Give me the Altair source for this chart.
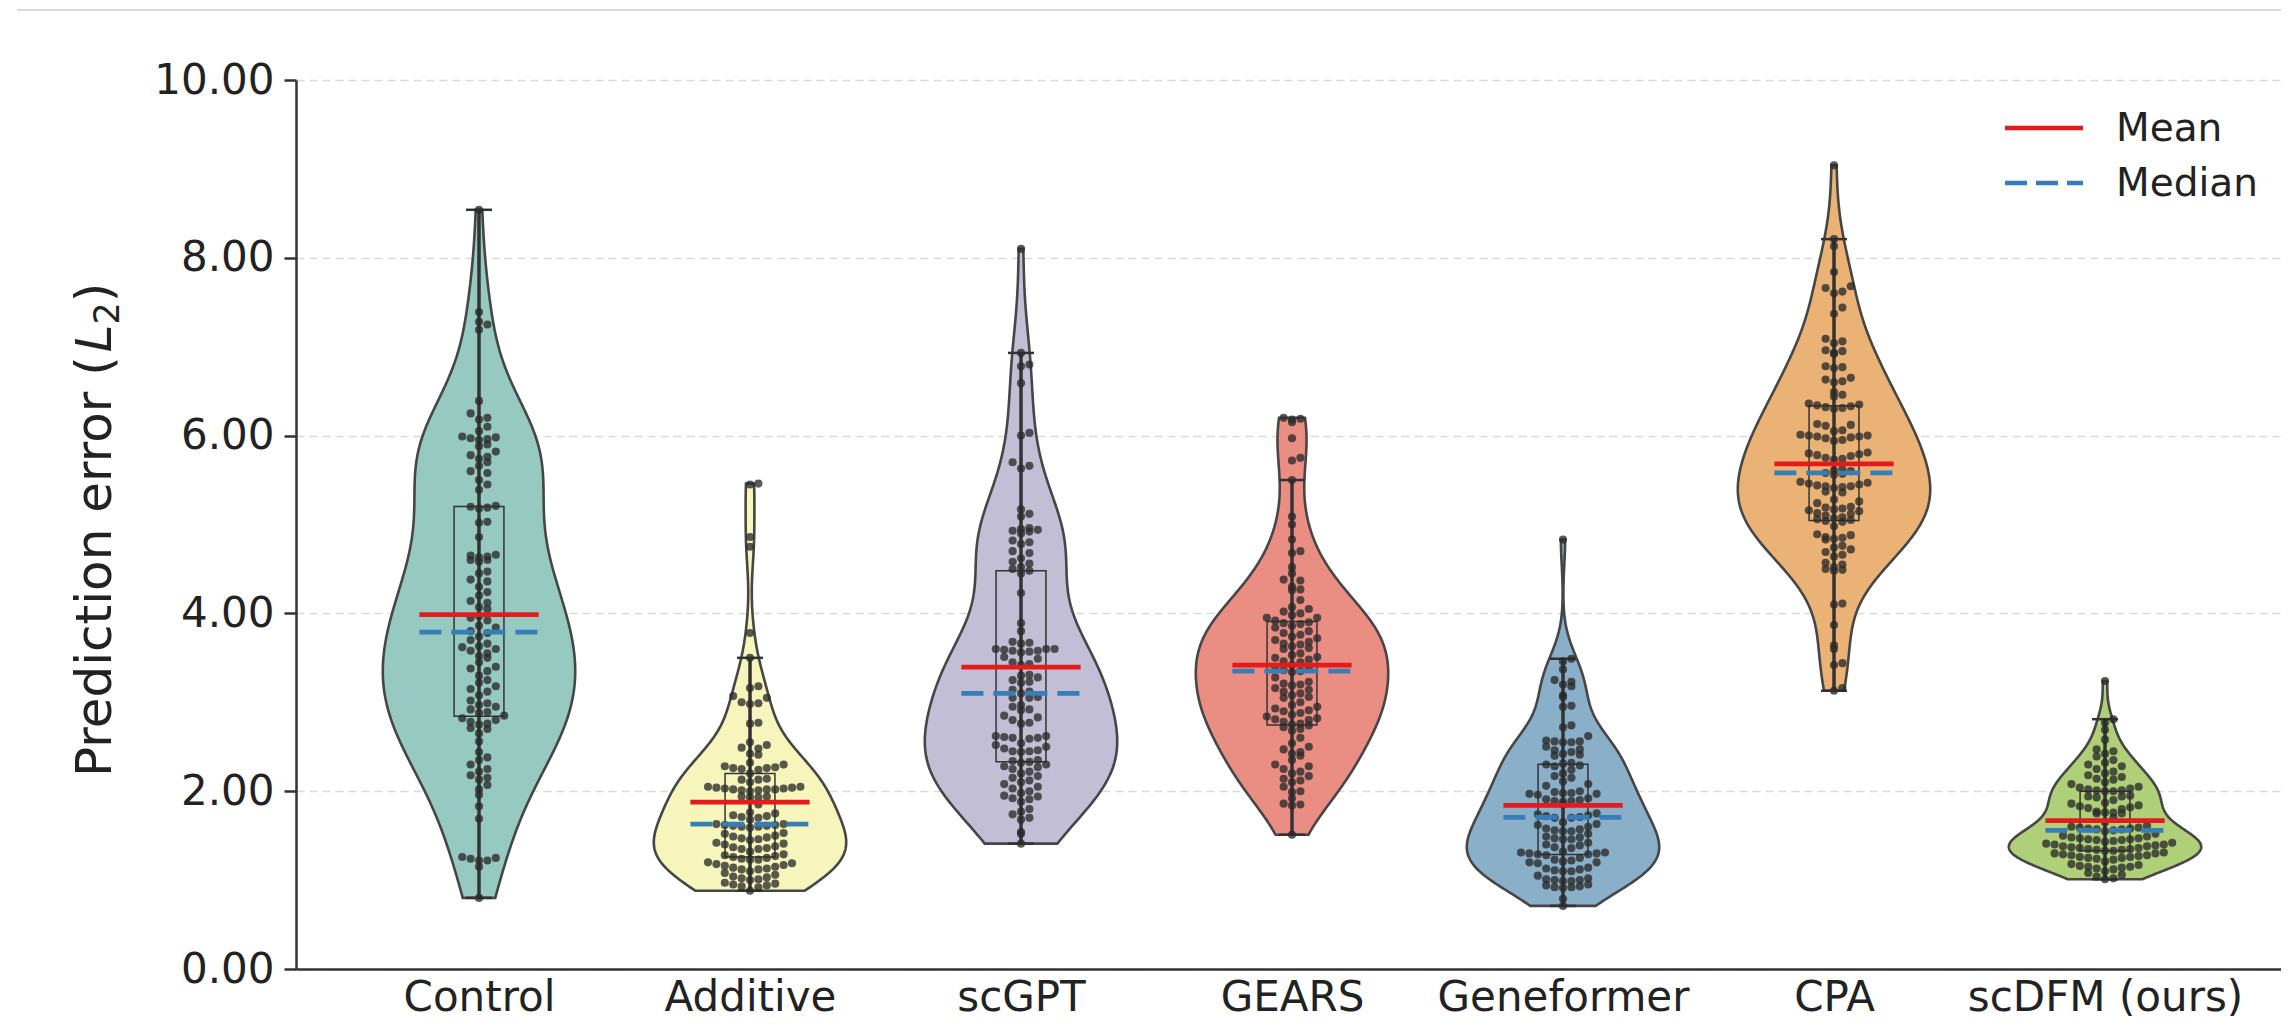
import colorsys
import json
import numpy as np
import pandas as pd
import altair as alt

# ---------------- data ----------------
categories = ["Control", "Additive", "scGPT", "GEARS", "Geneformer", "CPA", "scDFM (ours)"]

control = [8.54, 7.39, 7.28, 7.25, 7.19, 6.39, 6.25, 6.2, 6.18, 6.1, 6.05, 5.99, 5.98, 5.97, 5.96,
           5.95, 5.9, 5.88, 5.82, 5.78, 5.76, 5.74, 5.7, 5.66, 5.6, 5.58, 5.5, 5.45, 5.39, 5.21,
           5.2, 5.19, 5.18, 5.03, 5.02, 4.86, 4.66, 4.65, 4.64, 4.63, 4.6, 4.6, 4.58, 4.47, 4.45,
           4.38, 4.36, 4.3, 4.24, 4.2, 4.14, 4.12, 4.07, 4.05, 3.97, 3.95, 3.92, 3.86, 3.84, 3.8,
           3.78, 3.74, 3.7, 3.66, 3.63, 3.62, 3.6, 3.58, 3.55, 3.52, 3.5, 3.45, 3.4, 3.38, 3.35,
           3.3, 3.25, 3.22, 3.18, 3.15, 3.12, 3.08, 3.02, 2.99, 2.97, 2.95, 2.92, 2.89, 2.88, 2.85,
           2.82, 2.8, 2.78, 2.76, 2.75, 2.71, 2.7, 2.65, 2.56, 2.44, 2.38, 2.35, 2.3, 2.25, 2.22,
           2.18, 2.15, 2.13, 2.07, 2.02, 1.96, 1.83, 1.69, 1.26, 1.25, 1.24, 1.22, 1.22, 1.15, 0.8]

additive = [5.46, 5.45, 4.86, 4.75, 3.78, 3.5, 3.18, 3.16, 3.07, 3.05, 3.0, 2.99, 2.98, 2.77, 2.76,
            2.55, 2.52, 2.49, 2.48, 2.42, 2.41, 2.32, 2.3, 2.28, 2.27, 2.26, 2.26, 2.25, 2.24, 2.2,
            2.14, 2.13, 2.13, 2.1, 2.05, 2.05, 2.04, 2.04, 2.03, 2.03, 2.02, 2.02, 2.02, 2.01, 2.01,
            2.0, 1.94, 1.94, 1.93, 1.93, 1.85, 1.76, 1.75, 1.73, 1.72, 1.71, 1.7, 1.68, 1.63, 1.63,
            1.62, 1.62, 1.61, 1.61, 1.6, 1.6, 1.59, 1.53, 1.52, 1.5, 1.49, 1.48, 1.47, 1.46, 1.45,
            1.42, 1.41, 1.4, 1.38, 1.37, 1.36, 1.35, 1.35, 1.32, 1.29, 1.28, 1.27, 1.26, 1.25, 1.24,
            1.23, 1.23, 1.2, 1.19, 1.18, 1.17, 1.16, 1.15, 1.14, 1.13, 1.12, 1.12, 1.1, 1.08, 1.06,
            1.04, 1.03, 1.02, 1.01, 1.0, 0.97, 0.96, 0.95, 0.94, 0.93, 0.92, 0.88]

scgpt = [8.1, 6.93, 6.8, 6.78, 6.59, 6.03, 6.0, 5.7, 5.66, 5.63, 5.17, 5.12, 5.09, 4.96, 4.95,
         4.94, 4.93, 4.92, 4.9, 4.82, 4.8, 4.78, 4.7, 4.68, 4.62, 4.58, 4.56, 4.52, 4.5, 4.48,
         4.45, 4.23, 3.89, 3.8, 3.68, 3.67, 3.66, 3.6, 3.6, 3.6, 3.59, 3.58, 3.58, 3.57, 3.56,
         3.51, 3.49, 3.45, 3.43, 3.42, 3.31, 3.3, 3.28, 3.25, 3.23, 3.22, 3.14, 3.12, 3.1, 3.06,
         3.05, 3.05, 2.97, 2.95, 2.92, 2.91, 2.85, 2.83, 2.8, 2.77, 2.76, 2.62, 2.62, 2.61, 2.6,
         2.6, 2.59, 2.54, 2.52, 2.5, 2.48, 2.46, 2.45, 2.45, 2.44, 2.35, 2.34, 2.33, 2.32, 2.3,
         2.28, 2.27, 2.25, 2.22, 2.2, 2.17, 2.15, 2.12, 2.1, 2.08, 2.05, 2.03, 2.0, 1.98, 1.95,
         1.94, 1.92, 1.91, 1.88, 1.8, 1.77, 1.74, 1.7, 1.68, 1.54, 1.52, 1.41]

gears = [6.2, 6.19, 6.18, 6.15, 5.97, 5.75, 5.72, 5.5, 5.09, 5.0, 4.83, 4.7, 4.68, 4.52, 4.45,
         4.38, 4.37, 4.3, 4.27, 4.26, 4.15, 4.07, 4.05, 4.02, 4.0, 3.98, 3.95, 3.95, 3.92, 3.9,
         3.89, 3.88, 3.86, 3.84, 3.8, 3.78, 3.76, 3.74, 3.72, 3.7, 3.68, 3.66, 3.65, 3.63, 3.61,
         3.6, 3.55, 3.53, 3.51, 3.5, 3.48, 3.46, 3.45, 3.42, 3.4, 3.38, 3.36, 3.35, 3.34, 3.28,
         3.23, 3.21, 3.2, 3.19, 3.16, 3.14, 3.12, 3.1, 3.08, 3.06, 3.05, 3.0, 2.97, 2.95, 2.93,
         2.91, 2.9, 2.88, 2.86, 2.84, 2.82, 2.81, 2.8, 2.78, 2.76, 2.75, 2.74, 2.72, 2.7, 2.68,
         2.6, 2.54, 2.5, 2.47, 2.44, 2.42, 2.4, 2.35, 2.3, 2.28, 2.25, 2.22, 2.2, 2.17, 2.14,
         2.12, 2.1, 2.05, 2.0, 1.99, 1.92, 1.86, 1.85, 1.84, 1.51]

geneformer = [4.83, 3.49, 3.46, 3.37, 3.25, 3.23, 3.2, 3.18, 3.08, 3.06, 2.96, 2.95, 2.74, 2.72,
              2.62, 2.57, 2.56, 2.56, 2.55, 2.55, 2.5, 2.47, 2.46, 2.44, 2.42, 2.41, 2.4, 2.32,
              2.31, 2.3, 2.29, 2.28, 2.24, 2.2, 2.17, 2.15, 2.11, 2.08, 2.06, 2.0, 1.99, 1.98,
              1.98, 1.97, 1.97, 1.96, 1.92, 1.91, 1.9, 1.89, 1.89, 1.88, 1.85, 1.75, 1.74, 1.73,
              1.72, 1.71, 1.7, 1.7, 1.65, 1.63, 1.62, 1.6, 1.58, 1.57, 1.56, 1.55, 1.55, 1.52,
              1.49, 1.48, 1.47, 1.46, 1.46, 1.42, 1.4, 1.39, 1.37, 1.36, 1.32, 1.31, 1.31, 1.3,
              1.3, 1.29, 1.29, 1.28, 1.25, 1.23, 1.22, 1.21, 1.2, 1.2, 1.19, 1.14, 1.13, 1.12,
              1.11, 1.1, 1.1, 1.05, 1.02, 1.01, 1.0, 1.0, 0.99, 0.99, 0.95, 0.94, 0.93, 0.92, 0.92,
              0.91, 0.79, 0.71]

cpa = [9.04, 8.21, 8.13, 7.84, 7.68, 7.66, 7.62, 7.6, 7.44, 7.37, 7.09, 7.06, 7.04, 6.96, 6.95,
       6.93, 6.92, 6.78, 6.77, 6.76, 6.65, 6.63, 6.61, 6.6, 6.49, 6.46, 6.44, 6.36, 6.35, 6.34,
       6.33, 6.32, 6.31, 6.3, 6.13, 6.12, 6.11, 6.06, 6.05, 6.01, 6.0, 6.0, 5.99, 5.99, 5.98,
       5.97, 5.95, 5.94, 5.81, 5.8, 5.79, 5.78, 5.77, 5.75, 5.74, 5.73, 5.62, 5.61, 5.6, 5.58,
       5.57, 5.56, 5.48, 5.47, 5.46, 5.45, 5.44, 5.43, 5.43, 5.42, 5.41, 5.37, 5.36, 5.28, 5.26,
       5.24, 5.2, 5.19, 5.18, 5.17, 5.16, 5.15, 5.13, 5.12, 5.1, 5.08, 5.07, 5.06, 5.05, 5.04,
       5.03, 4.98, 4.89, 4.88, 4.86, 4.85, 4.84, 4.83, 4.76, 4.74, 4.72, 4.69, 4.66, 4.64, 4.57,
       4.55, 4.52, 4.5, 4.49, 4.48, 4.11, 4.1, 3.87, 3.64, 3.6, 3.44, 3.42, 3.16, 3.13]

scdfm = [3.24, 2.81, 2.77, 2.69, 2.58, 2.47, 2.45, 2.42, 2.39, 2.35, 2.32, 2.3, 2.28, 2.25, 2.22,
         2.2, 2.18, 2.16, 2.14, 2.13, 2.1, 2.08, 2.05, 2.04, 2.03, 2.02, 2.01, 2.01, 2.0, 2.0,
         1.95, 1.94, 1.94, 1.93, 1.9, 1.87, 1.86, 1.84, 1.83, 1.82, 1.81, 1.8, 1.77, 1.76, 1.76,
         1.75, 1.75, 1.7, 1.65, 1.61, 1.6, 1.59, 1.59, 1.58, 1.58, 1.57, 1.57, 1.56, 1.55, 1.52,
         1.5, 1.49, 1.48, 1.47, 1.47, 1.46, 1.46, 1.45, 1.45, 1.44, 1.43, 1.42, 1.41, 1.4, 1.4,
         1.39, 1.38, 1.38, 1.37, 1.36, 1.36, 1.35, 1.35, 1.34, 1.34, 1.33, 1.33, 1.31, 1.3, 1.3,
         1.29, 1.28, 1.28, 1.27, 1.26, 1.26, 1.25, 1.25, 1.24, 1.23, 1.21, 1.18, 1.17, 1.16,
         1.15, 1.15, 1.14, 1.13, 1.12, 1.1, 1.08, 1.06, 1.04, 1.02, 1.01]

series = [control, additive, scgpt, gears, geneformer, cpa, scdfm]
y_tick_values = [0, 2, 4, 6, 8, 10]
legend_labels = ["Mean", "Median"]
title_parts = ["Prediction error (", "L", "2", ")"]

# ---------------- styling ----------------
FONT = "DejaVu Sans"
INK = "#333333"
TEXT = "#222222"
RED = "#e41a1c"
BLUE = "#377eb8"
base_palette = ["#8dd3c7", "#ffffb3", "#bebada", "#fb8072", "#80b1d3", "#fdb462", "#b3de69"]


def desaturate(hexcol, prop=0.75):
    r, g, b = [int(hexcol[i:i + 2], 16) / 255 for i in (1, 3, 5)]
    h, l, s = colorsys.rgb_to_hls(r, g, b)
    r, g, b = colorsys.hls_to_rgb(h, l, s * prop)
    return "#%02x%02x%02x" % tuple(int(round(c * 255)) for c in (r, g, b))


colors = [desaturate(c) for c in base_palette]

rows = []
for i, (c, vals) in enumerate(zip(categories, series)):
    for v in vals:
        rows.append({"cat": c, "idx": i, "value": v})
df = pd.DataFrame(rows)

W, H = 1985, 889
xs = alt.Scale(domain=[-0.6753, 6.6494], nice=False, zero=False)
ys = alt.Scale(domain=[0, 10], nice=False)

x_axis = alt.Axis(values=list(range(len(categories))),
                  labelExpr=json.dumps(categories) + "[datum.value]",
                  ticks=False, grid=False, domainColor=INK, domainWidth=2.5,
                  labelFontSize=42, labelColor=TEXT, labelFont=FONT, labelPadding=8,
                  labelFlush=False, labelOverlap=False, labelLimit=0, title=None)
y_axis = alt.Axis(values=y_tick_values, format=".2f", tickSize=12, tickWidth=2.5, tickColor=INK,
                  domainColor=INK, domainWidth=2.5, labelFontSize=42, labelColor=TEXT,
                  labelFont=FONT, labelPadding=10, grid=True, gridDash=[8, 5],
                  gridColor="#dadada", gridWidth=1.5, title=None)


def X(field):
    return alt.X(field, scale=xs, axis=x_axis)


def Y(field):
    return alt.Y(field, scale=ys, axis=y_axis)


HW = 0.355  # half width of violins in category units
layers = []

# violins (KDE, cut at data extremes, each scaled to same max width)
for i, (c, vals) in enumerate(zip(categories, series)):
    arr = np.array(vals, dtype=float)
    bw = float(arr.std(ddof=1) * len(arr) ** (-0.2))
    v = alt.Chart(df).transform_filter(
        alt.datum.cat == c
    ).transform_density(
        "value", as_=["value", "density"], extent=[float(arr.min()), float(arr.max())],
        bandwidth=bw, steps=220
    ).transform_joinaggregate(
        maxd="max(density)"
    ).transform_calculate(
        xl=f"{i} - {HW} * datum.density / datum.maxd",
        xr=f"{i} + {HW} * datum.density / datum.maxd",
    ).mark_area(orient="horizontal", fill=colors[i], stroke="#464646", strokeWidth=2.6,
                fillOpacity=1).encode(
        y=Y("value:Q"), x=X("xl:Q"), x2="xr:Q",
    )
    layers.append(v)

# box plot pieces
box_base = alt.Chart(df).transform_joinaggregate(
    q1="q1(value)", q3="q3(value)", groupby=["cat", "idx"]
).transform_filter(
    "datum.value >= datum.q1 - 1.5 * (datum.q3 - datum.q1) && "
    "datum.value <= datum.q3 + 1.5 * (datum.q3 - datum.q1)"
).transform_aggregate(
    wlo="min(value)", whi="max(value)", groupby=["cat", "idx", "q1", "q3"]
).transform_calculate(
    bl="datum.idx - 0.092", br="datum.idx + 0.092",
    cl="datum.idx - 0.048", cr="datum.idx + 0.048",
)
layers.append(box_base.mark_rect(fillOpacity=0, stroke=INK, strokeWidth=1.5).encode(
    x=X("bl:Q"), x2="br:Q", y=Y("q1:Q"), y2="q3:Q"))
layers.append(box_base.mark_rule(color=INK, strokeWidth=3.5).encode(
    x=X("idx:Q"), y=Y("wlo:Q"), y2="whi:Q"))
layers.append(box_base.mark_rule(color=INK, strokeWidth=2.5).encode(
    x=X("cl:Q"), x2="cr:Q", y=Y("whi:Q")))
layers.append(box_base.mark_rule(color=INK, strokeWidth=2.5).encode(
    x=X("cl:Q"), x2="cr:Q", y=Y("wlo:Q")))

# swarm-like dots
dots = alt.Chart(df).transform_calculate(
    row="floor(datum.value / 0.11)"
).transform_window(
    window=[alt.WindowFieldDef(**{"op": "row_number", "as": "k"})],
    groupby=["cat", "row"],
    sort=[alt.SortField("value", order="ascending")],
).transform_calculate(
    xpos="datum.idx + (datum.k % 2 == 0 ? 1 : -1) * floor(datum.k / 2) * 0.031"
).mark_circle(size=66, color="#2a2a2a", opacity=0.78).encode(
    x=X("xpos:Q"), y=Y("value:Q"),
)
layers.append(dots)

# mean / median lines
stats = alt.Chart(df).transform_aggregate(
    mean="mean(value)", med="median(value)", groupby=["cat", "idx"]
).transform_calculate(ml="datum.idx - 0.22", mr="datum.idx + 0.22")
layers.append(stats.mark_rule(color=RED, strokeWidth=4.8).encode(
    x=X("ml:Q"), x2="mr:Q", y=Y("mean:Q")))
layers.append(stats.mark_rule(color=BLUE, strokeWidth=4.8, strokeDash=[22, 10]).encode(
    x=X("ml:Q"), x2="mr:Q", y=Y("med:Q")))

# legend (manual, top-right)
leg_mean = pd.DataFrame({"label": [legend_labels[0]]})
leg_med = pd.DataFrame({"label": [legend_labels[1]]})
layers.append(alt.Chart(leg_mean).mark_rule(color=RED, strokeWidth=4.5).encode(
    x=alt.value(1709), x2=alt.value(1787), y=alt.value(48)))
layers.append(alt.Chart(leg_med).mark_rule(color=BLUE, strokeWidth=4.5, strokeDash=[22, 9]).encode(
    x=alt.value(1709), x2=alt.value(1787), y=alt.value(103)))
for dfl, yy in ((leg_mean, 49), (leg_med, 104)):
    layers.append(alt.Chart(dfl).mark_text(align="left", baseline="middle", font=FONT,
                                           fontSize=39, color=TEXT).encode(
        x=alt.value(1820), y=alt.value(yy), text="label:N"))

# y-axis title with italic L and subscript 2
TFS = 50
one = pd.DataFrame({"k": [0]})
y0 = 697.0
tx = -185
w1 = 8.494 * TFS
wL = 0.557 * TFS
w2 = 0.636 * TFS * 0.7
pieces = [
    (title_parts[0], tx, y0, TFS, "normal"),
    (title_parts[1], tx, y0 - w1, TFS, "italic"),
    (title_parts[2], tx + 8, y0 - w1 - wL, TFS * 0.7, "normal"),
    (title_parts[3], tx, y0 - w1 - wL - w2, TFS, "normal"),
]
for txt, px, py, fs, style in pieces:
    layers.append(alt.Chart(one).mark_text(angle=270, align="left", baseline="alphabetic",
                                           font=FONT, fontSize=fs, fontStyle=style,
                                           color=TEXT).encode(
        x=alt.value(px), y=alt.value(py), text=alt.value(txt)))

# thin line at the very top of the figure
layers.append(alt.Chart(one).mark_rule(color="#cccccc", strokeWidth=1.5).encode(
    x=alt.value(-279), x2=alt.value(W), y=alt.value(-70)))

chart = alt.layer(*layers).properties(
    width=W, height=H,
    autosize=alt.AutoSizeParams(type="none"),
    padding={"left": 288, "top": 72, "right": 0, "bottom": 59},
).configure(font=FONT, background="white").configure_view(stroke=None)

chart.save("out.html", embed_options={"renderer": "svg", "actions": False})
